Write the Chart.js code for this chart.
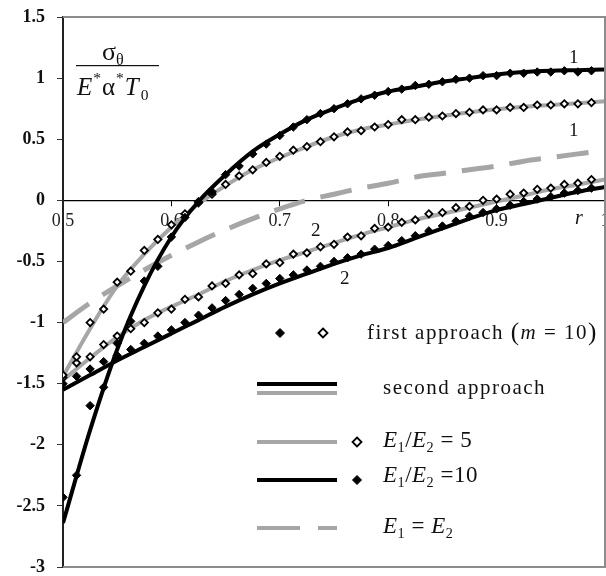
<!DOCTYPE html>
<html lang="en">
<head>
<meta charset="UTF-8">
<title>Stress curves</title>
<script src="https://cdn.jsdelivr.net/npm/chart.js"></script>
<style>
  body { margin: 0; background: #fff; }
  canvas { display: block; }
</style>
</head>
<body>
<canvas id="myChart" width="606" height="576"></canvas>
<script>
// radius values for the smooth curves (second approach)
const rLine = [0.5, 0.525, 0.55, 0.575, 0.6, 0.625, 0.65, 0.675, 0.7, 0.725, 0.75,
               0.775, 0.8, 0.825, 0.85, 0.875, 0.9, 0.925, 0.95, 0.975, 1.0];
const line10c1 = [-2.64, -1.88, -1.22, -0.70, -0.30, -0.01, 0.21, 0.40, 0.54, 0.66, 0.75,
                  0.83, 0.89, 0.93, 0.97, 1.00, 1.03, 1.05, 1.06, 1.065, 1.07];
const line5c1 = [-1.44, -1.05, -0.70, -0.44, -0.22, -0.03, 0.12, 0.25, 0.35, 0.44, 0.52,
                 0.58, 0.62, 0.66, 0.69, 0.72, 0.745, 0.765, 0.78, 0.795, 0.81];
const line5c2 = [-1.47, -1.29, -1.12, -0.98, -0.87, -0.77, -0.66, -0.57, -0.49, -0.42, -0.35,
                 -0.28, -0.22, -0.16, -0.11, -0.06, -0.01, 0.04, 0.09, 0.13, 0.17];
const line10c2 = [-1.55, -1.43, -1.31, -1.20, -1.09, -0.98, -0.87, -0.77, -0.68, -0.60, -0.52,
                  -0.45, -0.39, -0.31, -0.23, -0.15, -0.08, -0.03, 0.02, 0.07, 0.11];
const lineEq = [-1.0, -0.84, -0.70, -0.57, -0.45, -0.34, -0.24, -0.15, -0.07, 0.0, 0.05,
                0.10, 0.14, 0.19, 0.22, 0.25, 0.28, 0.32, 0.35, 0.38, 0.41];

// radius values for the markers (first approach, m = 10)
const rMark = [0.5, 0.5125, 0.525, 0.5375, 0.55, 0.5625, 0.575, 0.5875, 0.6, 0.6125,
               0.625, 0.6375, 0.65, 0.6625, 0.675, 0.6875, 0.7, 0.7125, 0.725, 0.7375,
               0.75, 0.7625, 0.775, 0.7875, 0.8, 0.8125, 0.825, 0.8375, 0.85, 0.8625,
               0.875, 0.8875, 0.9, 0.9125, 0.925, 0.9375, 0.95, 0.9625, 0.975, 0.9875];
const mark10c1 = [-2.43, -2.25, -1.68, -1.53, -1.17, -0.99, -0.66, -0.54, -0.30, -0.14,
                  -0.01, 0.07, 0.21, 0.28, 0.38, 0.46, 0.53, 0.60, 0.66, 0.71,
                  0.75, 0.79, 0.83, 0.86, 0.89, 0.91, 0.94, 0.95, 0.97, 0.99,
                  1.00, 1.02, 1.02, 1.04, 1.04, 1.05, 1.05, 1.06, 1.05, 1.06];
const mark5c1 = [-1.43, -1.28, -1.00, -0.89, -0.67, -0.58, -0.41, -0.32, -0.20, -0.11,
                 -0.02, 0.05, 0.13, 0.20, 0.25, 0.31, 0.36, 0.41, 0.44, 0.48,
                 0.52, 0.56, 0.57, 0.60, 0.62, 0.66, 0.66, 0.68, 0.69, 0.71,
                 0.72, 0.74, 0.74, 0.76, 0.76, 0.78, 0.78, 0.79, 0.79, 0.80];
const mark5c2 = [-1.45, -1.33, -1.28, -1.18, -1.11, -1.05, -1.00, -0.92, -0.89, -0.81,
                 -0.79, -0.70, -0.68, -0.61, -0.60, -0.52, -0.51, -0.44, -0.43, -0.38,
                 -0.36, -0.30, -0.29, -0.23, -0.22, -0.18, -0.16, -0.11, -0.10, -0.06,
                 -0.05, 0.00, 0.01, 0.05, 0.06, 0.09, 0.10, 0.13, 0.14, 0.17];
const mark10c2 = [-1.50, -1.44, -1.38, -1.32, -1.27, -1.22, -1.17, -1.11, -1.06, -1.00,
                  -0.94, -0.88, -0.82, -0.77, -0.72, -0.68, -0.64, -0.61, -0.57, -0.54,
                  -0.50, -0.47, -0.44, -0.40, -0.37, -0.33, -0.29, -0.25, -0.21, -0.17,
                  -0.13, -0.10, -0.07, -0.04, -0.01, 0.01, 0.03, 0.06, 0.08, 0.10];

const xTicks = [0.5, 0.6, 0.7, 0.8, 0.9, 1];
const yTicks = [1.5, 1, 0.5, 0, -0.5, -1, -1.5, -2, -2.5, -3];

const GRAY = '#a6a6a6';
const SERIF = '"Liberation Serif", "DejaVu Serif", serif';

function pts(xs, ys) {
    return xs.map((x, i) => ({ x: x, y: ys[i] }));
}

function markSet(ys, open) {
    return {
        data: pts(rMark, ys),
        showLine: false,
        pointStyle: 'rectRot',
        pointRadius: open ? 3.6 : 4.2,
        pointBackgroundColor: open ? '#fff' : '#000',
        pointBorderColor: '#000',
        pointBorderWidth: open ? 1.8 : 1,
        order: 0
    };
}

function lineSet(ys, color, dash) {
    return {
        data: pts(rLine, ys),
        showLine: true,
        borderColor: color,
        borderWidth: dash ? 5 : 4,
        borderDash: dash || [],
        pointRadius: 0,
        cubicInterpolationMode: 'monotone',
        fill: false,
        order: dash ? 2 : 1
    };
}

// draws a run of text pieces: {t, it, sub, sup, size, gap}
function runs(ctx, x, y, parts, size) {
    parts.forEach(p => {
        const s = p.sub || p.sup ? size * 0.62 : (p.size || size);
        ctx.font = (p.it ? 'italic ' : '') + s + 'px ' + SERIF;
        const dy = p.sub ? size * 0.3 : (p.sup ? -size * 0.38 : 0);
        ctx.fillText(p.t, x, y + dy);
        x += ctx.measureText(p.t).width + (p.gap || 0);
    });
}

const extras = {
    id: 'extras',
    afterDraw(chart) {
        const ctx = chart.ctx;
        const a = chart.chartArea;
        ctx.save();
        // plot frame (top, right, bottom)
        ctx.strokeStyle = '#8c8c8c';
        ctx.lineWidth = 2;
        ctx.beginPath();
        ctx.moveTo(a.left, a.top);
        ctx.lineTo(a.right, a.top);
        ctx.lineTo(a.right, a.bottom);
        ctx.lineTo(a.left, a.bottom);
        ctx.stroke();

        ctx.fillStyle = '#111';
        ctx.textBaseline = 'middle';
        ctx.textAlign = 'left';

        // y axis title as a fraction
        runs(ctx, 102, 53, [{ t: 'σ' }, { t: 'θ', sub: true }], 26);
        ctx.fillRect(76, 65, 83, 1.2);
        runs(ctx, 77, 88, [{ t: 'E', it: true, gap: 1 }, { t: '*', sup: true, gap: 1 },
                            { t: 'α', gap: 1 }, { t: '*', sup: true, gap: 1 },
                            { t: 'T', it: true, gap: 2 }, { t: '0', sub: true }], 25);

        // curve numbers and r label
        ctx.font = '19px ' + SERIF;
        ctx.fillText('1', 569, 58);
        ctx.fillText('1', 569, 131);
        ctx.fillText('2', 311, 231);
        ctx.fillText('2', 340, 279);
        ctx.font = 'italic 20px ' + SERIF;
        ctx.fillText('r', 575, 219);

        // legend
        const lx0 = 257, lx1 = 337;
        function diamond(x, y, open) {
            ctx.beginPath();
            ctx.moveTo(x, y - 4.5); ctx.lineTo(x + 4.5, y);
            ctx.lineTo(x, y + 4.5); ctx.lineTo(x - 4.5, y);
            ctx.closePath();
            ctx.fillStyle = open ? '#fff' : '#000';
            ctx.fill();
            ctx.strokeStyle = '#000';
            ctx.lineWidth = open ? 1.8 : 1;
            ctx.stroke();
            ctx.fillStyle = '#111';
        }
        function seg(y, color, dash) {
            ctx.strokeStyle = color;
            ctx.lineWidth = 4;
            ctx.setLineDash(dash || []);
            ctx.beginPath();
            ctx.moveTo(lx0, y); ctx.lineTo(lx1, y);
            ctx.stroke();
            ctx.setLineDash([]);
        }
        diamond(280, 333, false);
        diamond(323, 333, true);
        ctx.letterSpacing = '1.5px';
        runs(ctx, 367, 333, [{ t: 'first approach ' }, { t: '(', size: 25 },
                             { t: 'm', it: true }, { t: ' = 10' }, { t: ')', size: 25 }], 21);
        seg(384, '#000');
        seg(393, GRAY);
        runs(ctx, 383, 388, [{ t: 'second approach' }], 21);
        ctx.letterSpacing = '0.5px';
        seg(442, GRAY);
        diamond(357, 442, true);
        runs(ctx, 383, 441, [{ t: 'E', it: true }, { t: '1', sub: true }, { t: '/' },
                             { t: 'E', it: true }, { t: '2', sub: true }, { t: ' = 5' }], 23);
        seg(480, '#000');
        diamond(357, 480, false);
        runs(ctx, 383, 476, [{ t: 'E', it: true }, { t: '1', sub: true }, { t: '/' },
                             { t: 'E', it: true }, { t: '2', sub: true }, { t: ' =10' }], 23);
        seg(528, GRAY, [43, 18]);
        runs(ctx, 383, 527, [{ t: 'E', it: true }, { t: '1', sub: true }, { t: ' = ' },
                             { t: 'E', it: true }, { t: '2', sub: true }], 23);
        ctx.restore();
    }
};

const ctx = document.getElementById('myChart');
new Chart(ctx, {
    type: 'scatter',
    data: {
        datasets: [
            markSet(mark10c1, false),
            markSet(mark10c2, false),
            markSet(mark5c1, true),
            markSet(mark5c2, true),
            lineSet(line10c1, '#000'),
            lineSet(line10c2, '#000'),
            lineSet(line5c1, GRAY),
            lineSet(line5c2, GRAY),
            lineSet(lineEq, GRAY, [32, 16])
        ]
    },
    options: {
        responsive: false,
        animation: false,
        layout: { autoPadding: false, padding: { left: 0, top: 17, right: 1, bottom: 9 } },
        plugins: {
            legend: { display: false },
            tooltip: { enabled: false }
        },
        scales: {
            x: {
                type: 'linear',
                position: { y: 0 },
                min: 0.5,
                max: 1,
                afterBuildTicks: s => { s.ticks = xTicks.map(v => ({ value: v })); },
                afterFit: s => { s.paddingLeft = 0; s.paddingRight = 0; },
                ticks: {
                    color: '#222',
                    font: { family: SERIF, size: 18 },
                    padding: 5,
                    maxRotation: 0,
                    autoSkip: false,
                    callback: v => String(v)
                },
                grid: { drawOnChartArea: false, tickLength: 5, color: '#000' },
                border: { color: '#000', width: 1.2 }
            },
            y: {
                min: -3,
                max: 1.5,
                afterFit: s => { s.width = 63; s.paddingTop = 0; s.paddingBottom = 0; },
                afterBuildTicks: s => { s.ticks = yTicks.map(v => ({ value: v })); },
                ticks: {
                    color: '#111',
                    font: { family: SERIF, size: 18, weight: 'bold' },
                    padding: 12,
                    callback: v => String(v)
                },
                grid: { drawOnChartArea: false, tickLength: 6, color: '#333' },
                border: { color: '#222', width: 2 }
            }
        }
    },
    plugins: [extras]
});
</script>
</body>
</html>
